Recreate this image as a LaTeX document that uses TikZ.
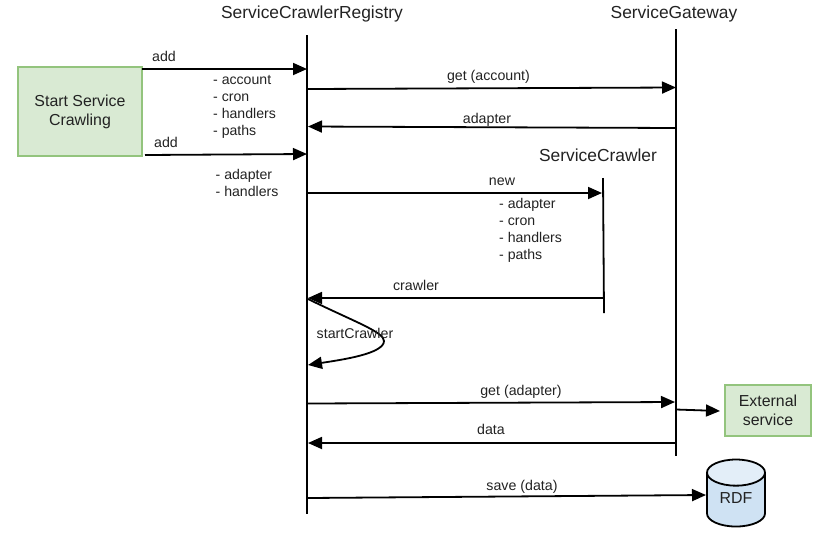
\documentclass[tikz,border=0pt]{standalone}
\usepackage{fontspec}
\setmainfont{Liberation Sans}
\usetikzlibrary{arrows.meta, shapes.geometric}
\definecolor{boxfill}{HTML}{D9EAD3}
\definecolor{boxline}{HTML}{93C47D}
\definecolor{dbfill}{HTML}{CFE2F3}
\definecolor{dbtop}{HTML}{E3EEF8}
\definecolor{inktext}{HTML}{222222}
\tikzset{
  msg/.style={-{Triangle[length=14pt,width=12pt]}, line width=1.8pt, black},
  life/.style={line width=1.8pt, black},
  lbl/.style={inner sep=0pt, text=inktext, font=\fontsize{14.2}{14.2}\selectfont},
  title/.style={inner sep=0pt, text=inktext, font=\fontsize{17.4}{17.4}\selectfont},
  lst/.style={inner sep=0pt, text=inktext, align=left, anchor=north west, font=\fontsize{14.1}{17}\selectfont},
  startbox/.style={draw=boxline, fill=boxfill, line width=2pt, inner sep=0pt, align=center, text=inktext, font=\fontsize{15.9}{19.5}\selectfont},
}
\begin{document}
\begin{tikzpicture}[x=1pt,y=-1pt]
      \useasboundingbox (0,0) rectangle (827,547);
      % titles
      \node[title] (tregistry) at (312,13.5) {ServiceCrawlerRegistry};
      \node[title] (tgateway) at (674,13.5) {ServiceGateway};
      \node[title] (tcrawler) at (598,155.5) {ServiceCrawler};
      % boxes
      \node[startbox, minimum width=124pt, minimum height=89pt] (start) at (80,111) {\rule{0pt}{13pt}Start Service\\Crawling};
      \node[startbox, minimum width=86pt, minimum height=51pt] (external) at (768,410.5) {External\\service};
      \node[draw=black, line width=1.8pt, shape=cylinder, shape border rotate=90, aspect=0.8,
        cylinder uses custom fill, cylinder body fill=dbfill, cylinder end fill=dbtop,
        minimum width=58pt, minimum height=67pt, inner sep=0pt, text=inktext,
        font=\fontsize{15.9}{15.9}\selectfont] (rdf) at (736,500) {\raisebox{3pt}{RDF}};
      % lifelines
      \coordinate (r0) at (307,35);
      \coordinate (r1) at (307,514);
      \coordinate (g0) at (676,29);
      \coordinate (g1) at (676,456);
      \coordinate (c0) at (603,178);
      \coordinate (c1) at (604,313);
      \draw[life] (r0) -- (r1);
      \draw[life] (g0) -- (g1);
      \draw[life] (c0) -- (c1);
      % end points
      \coordinate (a1s) at (142,69);
      \coordinate (a1e) at (307,69);
      \coordinate (a2s) at (145,155);
      \coordinate (a2e) at (307,154);
      \coordinate (b1s) at (308,89);
      \coordinate (b1e) at (676,87.5);
      \coordinate (b2s) at (676,128);
      \coordinate (b2e) at (308,126.5);
      \coordinate (b3s) at (308,193);
      \coordinate (b3e) at (602,193);
      \coordinate (b4s) at (603,298);
      \coordinate (b4e) at (308,298);
      \coordinate (b5s) at (308,403.5);
      \coordinate (b5e) at (675,402);
      \coordinate (b6s) at (676,443);
      \coordinate (b6e) at (308,443);
      \coordinate (b7s) at (308,498);
      \coordinate (b7e) at (706,495);
      \coordinate (e1s) at (676,409.5);
      \coordinate (e1e) at (720,411);
      % messages
      \draw[msg] (a1s) -- (a1e);
      \draw[msg] (a2s) -- (a2e);
      \draw[msg] (b1s) -- (b1e);
      \draw[msg] (b2s) -- (b2e);
      \draw[msg] (b3s) -- (b3e);
      \draw[msg] (b4s) -- (b4e);
      \draw[msg] (b5s) -- (b5e);
      \draw[msg] (b6s) -- (b6e);
      \draw[msg] (b7s) -- (b7e);
      \draw[msg] (e1s) -- (e1e);
      % self call
      \coordinate (s1) at (308,299);
      \coordinate (s2) at (308,365);
      \draw[msg] (s1) .. controls (355,322) and (384,332) .. (384,341) .. controls (384,354) and (340,360) .. (s2);
      % labels
      \node[lbl] (ladd1) at (164,56) {add};
      \node[lbl] (ladd2) at (166,142) {add};
      \node[lbl] (lget1) at (488.5,76.5) {get (account)};
      \node[lbl] (ladapter) at (487,119.5) {adapter};
      \node[lbl] (lnew) at (502,181.5) {new};
      \node[lbl] (lcrawler) at (416,285) {crawler};
      \node[lbl] (lstart) at (355,333) {startCrawler};
      \node[lbl] (lget2) at (521,391.5) {get (adapter)};
      \node[lbl] (ldata) at (491,429) {data};
      \node[lbl] (lsave) at (522,486.5) {save (data)};
      \node[lst] (l1) at (213,75) {- account\\- cron\\- handlers\\- paths};
      \node[lst] (l2) at (215.5,169) {- adapter\\- handlers};
      \node[lst] (l3) at (499,198.5) {- adapter\\- cron\\- handlers\\- paths};
    \end{tikzpicture}
\end{document}
